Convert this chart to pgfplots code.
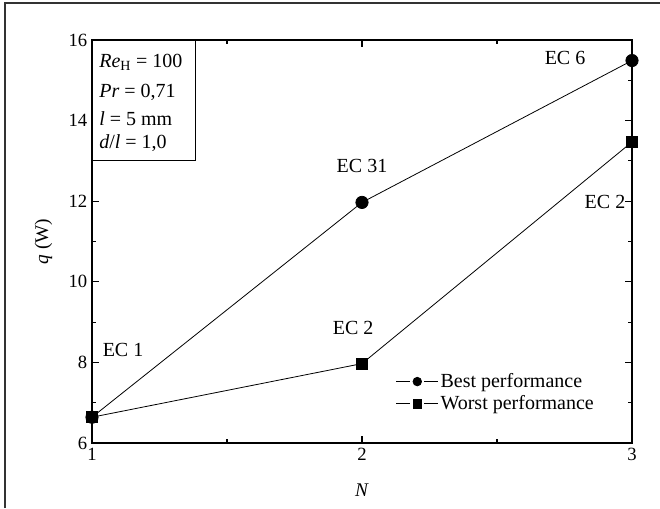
\documentclass[border=0pt]{standalone}
\usepackage{fontspec}
\setmainfont{Liberation Serif}
\usepackage{pgfplots}
\pgfplotsset{compat=1.18}
\begin{document}
\begin{tikzpicture}
\path[use as bounding box] (-69pt,-48.75pt) rectangle (426pt,332.25pt);
\draw[black!80, line width=1.5pt] (-65.25pt,-48.75pt) -- (-65.25pt,330pt) -- (426pt,330pt);
\begin{axis}[
  at={(0,0)}, anchor=south west,
  scale only axis, width=405pt, height=302.25pt,
  xmin=1, xmax=3, ymin=6, ymax=16,
  xtick={1,2,3}, minor xtick={1.5,2.5},
  ytick={6,8,10,12,14,16}, minor ytick={7,9,11,13,15},
  tick align=inside,
  major tick length=5pt, minor tick length=3pt,
  axis line style={line width=1pt},
  every tick/.style={black, line width=0.8pt},
  /pgf/number format/assume math mode=true,
  tick label style={font=\fontsize{14}{16}\selectfont},
  label style={font=\fontsize{14.5}{16}\selectfont},
  xlabel={\textit{N}},
  ylabel={\textit{q} (W)},
  xlabel style={at={(axis description cs:0.5,-0.117)}, anchor=center},
  ylabel style={at={(axis description cs:-0.09,0.5)}, anchor=center},
  legend style={draw=none, fill=none, at={(axis cs:2.125,7.78)}, anchor=north west,
    font=\fontsize{15}{17}\selectfont, row sep=1.5pt, inner sep=0pt,
    nodes={inner sep=1.5pt}},
  legend cell align=left,
  legend image code/.code={%
    \draw[#1,mark=none] (0cm,0cm) -- (0.36cm,0cm) (0.74cm,0cm) -- (1.1cm,0cm);
    \draw[#1,mark size=3.2pt] plot[only marks] coordinates {(0.55cm,0cm)};},
]
\addplot[black, line width=0.6pt, mark=*, mark size=4.6pt] coordinates {(1,6.64) (2,11.97) (3,15.49)};
\addlegendentry{Best performance}
\addplot[black, line width=0.6pt, mark=square*, mark size=4.2pt] coordinates {(1,6.64) (2,7.97) (3,13.47)};
\addlegendentry{Worst performance}
\draw[line width=0.8pt, fill=white] (axis cs:1,16) rectangle (axis cs:1.385,13.02);
\begin{scope}[every node/.style={font=\fontsize{15}{17}\selectfont, inner sep=0pt}]
\node[anchor=west] at (axis cs:1.026,15.45) {\textit{Re}\textsubscript{H} = 100};
\node[anchor=west] at (axis cs:1.026,14.71) {\textit{Pr} = 0,71};
\node[anchor=west] at (axis cs:1.026,14.06) {\textit{l} = 5 mm};
\node[anchor=west] at (axis cs:1.026,13.44) {\textit{d}/\textit{l} = 1,0};
\node at (axis cs:1.115,8.31) {EC 1};
\node at (axis cs:2.0,12.87) {EC 31};
\node at (axis cs:1.967,8.85) {EC 2};
\node at (axis cs:2.752,15.55) {EC 6};
\node at (axis cs:2.9,11.98) {EC 2};
\end{scope}
\end{axis}
\end{tikzpicture}
\end{document}
